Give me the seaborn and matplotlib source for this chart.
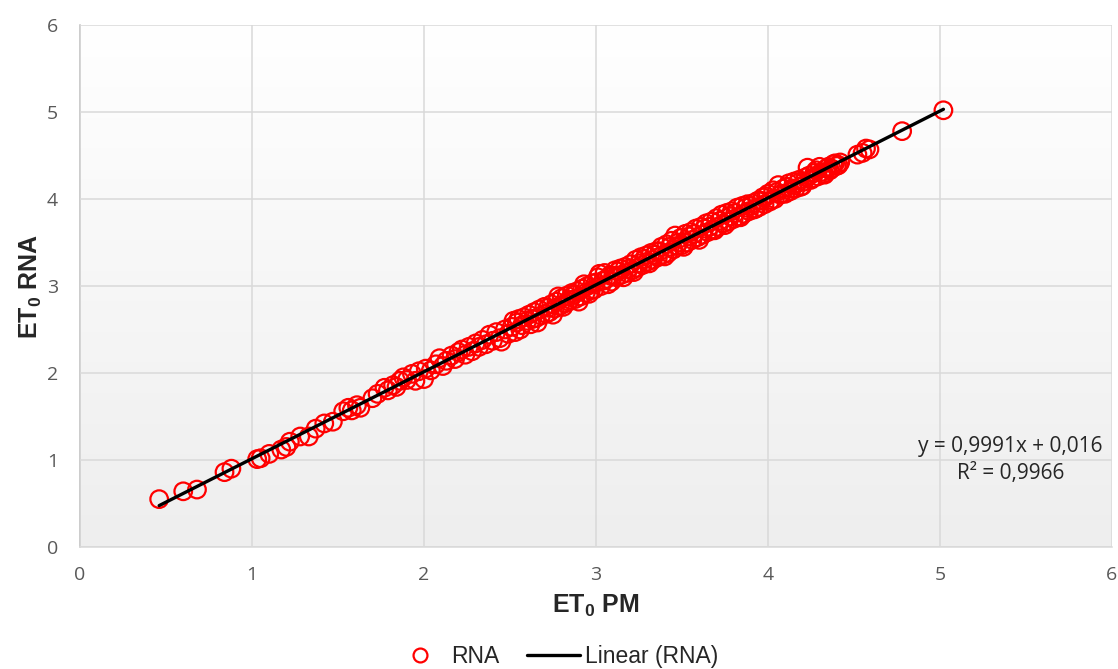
import numpy as np
import pandas as pd
import matplotlib
matplotlib.use("Agg")
import matplotlib.pyplot as plt
import seaborn as sns
from matplotlib.lines import Line2D

# ---------------- data ----------------
et0_pm = [
    0.46, 0.60, 0.68, 0.84, 0.88, 1.03, 1.05, 1.10, 1.17, 1.20, 1.22, 1.28, 1.33, 1.37, 1.42, 1.47,
    1.53, 1.56, 1.58, 1.61, 1.63, 1.70, 1.73, 1.77, 1.79, 1.82, 1.84, 1.86, 1.88, 1.90, 1.93, 1.95,
    1.97, 2.00, 2.01, 2.04, 2.07, 2.09, 2.11, 2.13, 2.16, 2.18, 2.20, 2.22, 2.24, 2.26, 2.28, 2.30,
    2.32, 2.34, 2.36, 2.38, 2.40, 2.42, 2.44, 2.45, 2.47, 2.49, 2.51, 2.53, 2.54, 2.55, 2.57, 2.58,
    2.60, 2.61, 2.62, 2.64, 2.65, 2.67, 2.68, 2.70, 2.71, 2.73, 2.74, 2.76, 2.77, 2.79, 2.80, 2.82,
    2.83, 2.85, 2.86, 2.88, 2.89, 2.91, 2.92, 2.94, 2.95, 2.96, 2.98, 2.99, 3.01, 3.02, 3.03, 3.05,
    3.06, 3.08, 3.09, 3.11, 3.12, 3.14, 3.15, 3.17, 3.18, 3.20, 3.21, 3.23, 3.24, 3.26, 3.27, 3.29,
    3.30, 3.32, 3.33, 3.35, 3.36, 3.38, 3.39, 3.41, 3.42, 3.44, 3.45, 3.46, 3.47, 3.49, 3.50, 3.52,
    3.53, 3.55, 3.56, 3.58, 3.59, 3.61, 3.62, 3.64, 3.65, 3.67, 3.68, 3.70, 3.71, 3.73, 3.74, 3.76,
    3.77, 3.79, 3.80, 3.82, 3.83, 3.85, 3.86, 3.88, 3.89, 3.91, 3.92, 3.94, 3.95, 3.97, 3.98, 4.00,
    4.01, 4.03, 4.04, 4.06, 4.07, 4.09, 4.10, 4.12, 4.13, 4.15, 4.16, 4.18, 4.20, 4.22, 4.23, 4.25,
    4.27, 4.29, 4.30, 4.32, 4.34, 4.36, 4.38, 4.40, 4.42, 4.52, 4.55, 4.57, 4.59, 4.78, 5.02,
    2.52, 2.56, 2.63, 2.66, 2.72, 2.75, 2.78, 2.81, 2.84, 2.87, 2.90, 2.93, 2.97, 3.00, 3.04, 3.07,
    3.10, 3.13, 3.16, 3.19, 3.22, 3.25, 3.28, 3.31, 3.34, 3.37, 3.40, 3.43, 3.48, 3.51, 3.54, 3.57,
    3.60, 3.63, 3.66, 3.69, 3.72, 3.75, 3.78, 3.81, 3.84, 3.87, 3.90, 3.93, 3.96, 3.99, 4.02, 4.05,
    4.08, 4.11, 4.14, 4.17, 4.19, 4.21, 4.24, 4.26, 4.28, 4.31, 4.33, 4.35, 4.37, 4.39, 4.41,
]
et0_rna = [
    0.55, 0.64, 0.66, 0.86, 0.90, 1.01, 1.02, 1.07, 1.12, 1.15, 1.21, 1.27, 1.27, 1.36, 1.42, 1.44,
    1.56, 1.60, 1.57, 1.63, 1.60, 1.71, 1.76, 1.83, 1.80, 1.86, 1.84, 1.91, 1.95, 1.92, 1.99, 1.91,
    2.02, 1.93, 2.05, 2.03, 2.10, 2.17, 2.08, 2.14, 2.20, 2.16, 2.24, 2.27, 2.21, 2.30, 2.25, 2.34,
    2.30, 2.38, 2.33, 2.44, 2.37, 2.47, 2.40, 2.36, 2.50, 2.45, 2.53, 2.47, 2.58, 2.62, 2.55, 2.64,
    2.60, 2.67, 2.56, 2.70, 2.63, 2.73, 2.66, 2.76, 2.68, 2.70, 2.79, 2.74, 2.82, 2.77, 2.86, 2.80,
    2.89, 2.84, 2.92, 2.85, 2.94, 2.88, 2.97, 2.92, 3.00, 2.91, 3.03, 2.96, 3.10, 3.14, 3.00, 3.15,
    3.08, 3.12, 3.05, 3.18, 3.10, 3.20, 3.13, 3.22, 3.15, 3.25, 3.18, 3.30, 3.21, 3.33, 3.24, 3.35,
    3.28, 3.38, 3.30, 3.40, 3.33, 3.45, 3.36, 3.48, 3.38, 3.52, 3.42, 3.58, 3.46, 3.55, 3.47, 3.60,
    3.50, 3.62, 3.53, 3.66, 3.56, 3.68, 3.59, 3.72, 3.62, 3.74, 3.65, 3.78, 3.68, 3.82, 3.72, 3.84,
    3.74, 3.86, 3.77, 3.90, 3.80, 3.92, 3.83, 3.94, 3.86, 3.95, 3.88, 3.98, 3.91, 4.02, 3.94, 4.06,
    3.97, 4.10, 4.00, 4.16, 4.05, 4.12, 4.06, 4.18, 4.09, 4.20, 4.12, 4.22, 4.15, 4.25, 4.36, 4.22,
    4.30, 4.26, 4.37, 4.29, 4.35, 4.33, 4.40, 4.38, 4.42, 4.51, 4.53, 4.58, 4.57, 4.78, 5.02,
    2.60, 2.50, 2.62, 2.58, 2.75, 2.67, 2.88, 2.76, 2.82, 2.90, 2.82, 3.02, 2.95, 3.04, 3.06, 3.02,
    3.12, 3.17, 3.10, 3.20, 3.16, 3.26, 3.31, 3.26, 3.36, 3.40, 3.34, 3.45, 3.50, 3.45, 3.57, 3.60,
    3.53, 3.66, 3.68, 3.64, 3.75, 3.70, 3.80, 3.84, 3.79, 3.90, 3.92, 3.89, 3.98, 4.03, 3.99, 4.08,
    4.06, 4.14, 4.12, 4.18, 4.14, 4.20, 4.27, 4.24, 4.33, 4.31, 4.28, 4.37, 4.35, 4.41, 4.39,
]
trend_slope = 0.9991
trend_intercept = 0.016
r_squared = 0.9966
axis_ticks = [0, 1, 2, 3, 4, 5, 6]

# ---------------- styling ----------------
sns.set_theme(style="white")
plt.rcParams["font.family"] = ["Liberation Sans", "DejaVu Sans"]
plt.rcParams["mathtext.fontset"] = "custom"
plt.rcParams["mathtext.rm"] = "Liberation Sans"
plt.rcParams["mathtext.bf"] = "Liberation Sans:bold"
plt.rcParams["mathtext.it"] = "Liberation Sans:italic"

fig = plt.figure(figsize=(11.18, 6.69), dpi=100)
ax = fig.add_axes([0.0716, 0.1824, 0.9230, 0.7802])

# gradient background of plot area (white at top, light grey at bottom)
grad = np.linspace(1, 0, 256).reshape(-1, 1)
cmap = matplotlib.colors.LinearSegmentedColormap.from_list("bg", ["#ffffff", "#eeeeee"])
ax.imshow(grad, extent=[0, 6, 0, 6], aspect="auto", cmap=cmap, zorder=0, origin="lower")

df = pd.DataFrame({"pm": et0_pm, "rna": et0_rna})
sns.scatterplot(data=df, x="pm", y="rna", ax=ax, marker="o", s=160,
                facecolors="none", edgecolor="#ff0000", linewidth=1.6, zorder=3)

xline = np.array([min(et0_pm), max(et0_pm)])
line_df = pd.DataFrame({"x": xline, "y": trend_slope * xline + trend_intercept})
sns.lineplot(data=line_df, x="x", y="y", ax=ax, color="black", linewidth=2.4, zorder=4)

ax.set_xlim(0, 6)
ax.set_ylim(0, 6)
ax.set_xticks(axis_ticks)
ax.set_yticks(axis_ticks)
ax.grid(True, color="#d9d9d9", linewidth=1.1, zorder=1)
ax.set_axisbelow(False)
for gl in ax.get_xgridlines() + ax.get_ygridlines():
    gl.set_zorder(1)
for side in ["top", "right"]:
    ax.spines[side].set_visible(False)
ax.spines["left"].set_color("#bfbfbf")
ax.spines["left"].set_linewidth(1.1)
ax.spines["bottom"].set_color("#d9d9d9")
ax.spines["bottom"].set_linewidth(1.1)
ax.tick_params(axis="both", length=0, labelsize=14, labelcolor="#595959")
ax.tick_params(axis="x", pad=14)
ax.tick_params(axis="y", pad=16)
for lab in ax.get_xticklabels() + ax.get_yticklabels():
    lab.set_fontfamily(["Open Sans", "DejaVu Sans"])

ax.set_xlabel(r"$\mathbf{ET_0}$ PM", fontsize=18, fontweight="bold", labelpad=6)
ax.set_ylabel(r"$\mathbf{ET_0}$ RNA", fontsize=18, fontweight="bold", labelpad=2)

eq_text = f"y = {trend_slope:.4f}x + {trend_intercept:.3f}".replace(".", ",") + "\n" + \
          f"R² = {r_squared:.4f}".replace(".", ",")
ax.text(5.41, 1.0, eq_text, ha="center", va="center", fontsize=15, color="#262626",
        family=["Open Sans", "DejaVu Sans"], linespacing=1.35, zorder=5)

handles = [
    Line2D([], [], marker="o", linestyle="none", markerfacecolor="none",
           markeredgecolor="#ff0000", markeredgewidth=1.6, markersize=10),
    Line2D([], [], color="black", linewidth=2.4),
]
fig.legend(handles, ["RNA", "Linear (RNA)"], loc="lower center", bbox_to_anchor=(0.497, -0.03),
           ncol=2, frameon=False, fontsize=16.5, handlelength=2.3, columnspacing=1.2,
           handletextpad=0.22)

fig.savefig("out.png", dpi=100)
